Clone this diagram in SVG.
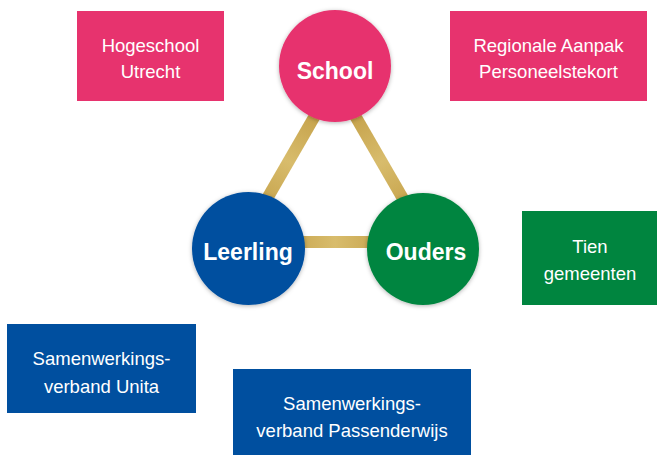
<svg xmlns="http://www.w3.org/2000/svg" width="658" height="455" viewBox="0 0 658 455">
<style>
.box text{font-family:"Liberation Sans",Arial,sans-serif;font-size:18.5px;fill:#fff;text-anchor:middle}
.node text{font-family:"Liberation Sans",Arial,sans-serif;font-size:23px;font-weight:bold;fill:#fff;text-anchor:middle}
.pink{fill:#E7336E}
.blue{fill:#004F9F}
.green{fill:#00853F}
.link{stroke-width:12;fill:none}
</style>
<defs>
<linearGradient id="g1" gradientUnits="userSpaceOnUse" x1="335" y1="81" x2="242" y2="242">
<stop offset="0" stop-color="#B88F32"/>
<stop offset="0.5" stop-color="#D8BC6C"/>
<stop offset="1" stop-color="#B88F32"/>
</linearGradient>
<linearGradient id="g2" gradientUnits="userSpaceOnUse" x1="335" y1="81" x2="428" y2="242">
<stop offset="0" stop-color="#B88F32"/>
<stop offset="0.5" stop-color="#D8BC6C"/>
<stop offset="1" stop-color="#B88F32"/>
</linearGradient>
<linearGradient id="g3" gradientUnits="userSpaceOnUse" x1="242" y1="242" x2="428" y2="242">
<stop offset="0" stop-color="#B88F32"/>
<stop offset="0.5" stop-color="#D8BC6C"/>
<stop offset="1" stop-color="#B88F32"/>
</linearGradient>
<filter id="sh" x="-20%" y="-20%" width="140%" height="140%">
<feDropShadow dx="0" dy="1" stdDeviation="2" flood-color="#000" flood-opacity="0.3"/>
</filter>
</defs>
<rect width="658" height="455" fill="#fff"/>
<g id="connectors">
<line class="link" stroke="url(#g1)" x1="335" y1="81" x2="242" y2="242"/>
<line class="link" stroke="url(#g2)" x1="335" y1="81" x2="428" y2="242"/>
<line class="link" stroke="url(#g3)" x1="242" y1="242" x2="428" y2="242"/>
</g>
<g id="school" class="node">
<circle class="pink" cx="335" cy="66" r="56" filter="url(#sh)"/>
<text x="335" y="79">School</text>
</g>
<g id="leerling" class="node">
<circle class="blue" cx="248.5" cy="248.5" r="56.5" filter="url(#sh)"/>
<text x="248" y="260">Leerling</text>
</g>
<g id="ouders" class="node">
<circle class="green" cx="423" cy="249" r="56" filter="url(#sh)"/>
<text x="426" y="260">Ouders</text>
</g>
<g id="hogeschool" class="box">
<rect class="pink" x="77" y="11" width="147" height="90"/>
<text x="150.5" y="52">Hogeschool</text>
<text x="150.5" y="78">Utrecht</text>
</g>
<g id="regionale" class="box">
<rect class="pink" x="450" y="11" width="197" height="90"/>
<text x="548.5" y="52">Regionale Aanpak</text>
<text x="548.5" y="78">Personeelstekort</text>
</g>
<g id="tien" class="box">
<rect class="green" x="522" y="211" width="135" height="94"/>
<text x="590" y="253">Tien</text>
<text x="590" y="280">gemeenten</text>
</g>
<g id="unita" class="box">
<rect class="blue" x="7" y="324" width="189" height="89"/>
<text x="101.5" y="365">Samenwerkings-</text>
<text x="101.5" y="393">verband Unita</text>
</g>
<g id="passenderwijs" class="box">
<rect class="blue" x="233" y="369" width="238" height="86"/>
<text x="352" y="410">Samenwerkings-</text>
<text x="352" y="437">verband Passenderwijs</text>
</g>
</svg>
